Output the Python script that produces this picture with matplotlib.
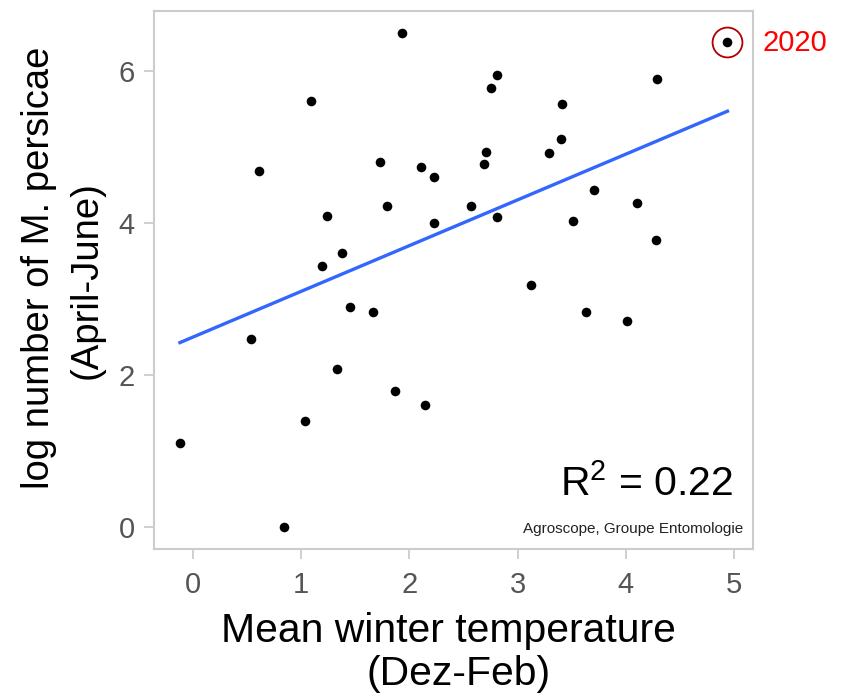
import numpy as np
import matplotlib
matplotlib.use("Agg")
import matplotlib.pyplot as plt

plt.rcParams['font.family'] = ['Liberation Sans', 'DejaVu Sans']
plt.rcParams['mathtext.fontset'] = 'custom'
plt.rcParams['mathtext.rm'] = 'Liberation Sans'
plt.rcParams['mathtext.it'] = 'Liberation Sans'

# Mean winter temperature (Dec-Feb)
temp = [1.93, 1.09, 0.61, 1.73, 2.11, 2.23, 1.24, 1.79, 2.23, 1.38, 1.19,
        4.94, 2.81, 2.75, 4.29, 3.41, 3.40, 3.29, 2.71, 2.69, 3.71, 2.57,
        2.81, 3.51, 4.10, 4.28,
        0.54, 1.45, 1.66, 1.33, 1.87, 2.14, 1.04, -0.12, 0.84,
        3.12, 3.63, 4.01]
# log number of M. persicae (April-June)
lognum = [6.50, 5.61, 4.68, 4.80, 4.74, 4.60, 4.09, 4.23, 4.00, 3.61, 3.43,
          6.38, 5.95, 5.78, 5.89, 5.57, 5.10, 4.92, 4.94, 4.77, 4.43, 4.23,
          4.08, 4.03, 4.26, 3.78,
          2.48, 2.89, 2.83, 2.08, 1.79, 1.61, 1.39, 1.10, 0.00,
          3.18, 2.83, 2.71]
highlight_year = "2020"
highlight_idx = 11
r2_text = r"R$^2$ = 0.22"
xticks = [0, 1, 2, 3, 4, 5]
yticks = [0, 2, 4, 6]
xlabel_lines = ["Mean winter temperature", "(Dez-Feb)"]
ylabel_lines = ["log number of M. persicae", "(April-June)"]

x = np.array(temp)
y = np.array(lognum)

W, H = 848, 694
fig = plt.figure(figsize=(W/100, H/100), dpi=100)
ax = fig.add_axes([154/W, 1-549/H, (753-154)/W, (549-11)/H])

ax.scatter(x, y, s=48, color='black', zorder=3, linewidths=0)
slope, intercept = np.polyfit(x, y, 1)
xl = np.array([x.min(), x.max()])
ax.plot(xl, intercept + slope*xl, color='#3366FF', lw=2.4, zorder=2)

ax.plot([x[highlight_idx]], [y[highlight_idx]], marker='o', markersize=21.5,
        markerfacecolor='none', markeredgecolor='#b00000', markeredgewidth=1.3,
        clip_on=False, zorder=4)

ax.set_xlim(-0.36, 5.176)
ax.set_ylim(-0.289, 6.789)
ax.set_xticks(xticks)
ax.set_yticks(yticks)
for s in ax.spines.values():
    s.set_color('#cccccc')
    s.set_linewidth(1.5)
ax.tick_params(axis='both', colors='#cccccc', length=7, width=1.3,
               labelsize=21, labelcolor='#555555')
ax.tick_params(axis='x', pad=9)
ax.tick_params(axis='y', pad=7)

# axis titles (two lines each, placed individually)
fig.text(448.5/W, 1-642/H, xlabel_lines[0], fontsize=29.4, ha='center', va='baseline')
fig.text(459/W, 1-685/H, xlabel_lines[1], fontsize=29.4, ha='center', va='baseline')
fig.text(49/W, 1-268/H, ylabel_lines[0], fontsize=27.5, ha='center', va='baseline',
         rotation=90, rotation_mode='anchor')
fig.text(97/W, 1-280/H, ylabel_lines[1], fontsize=27.5, ha='center', va='baseline',
         rotation=90, rotation_mode='anchor')

fig.text(733/W, 1-496/H, r2_text, fontsize=29.5, ha='right', va='baseline')
fig.text(743/W, 1-533/H, "Agroscope, Groupe Entomologie", fontsize=11,
         ha='right', va='baseline', color='#222222')
fig.text(762/W, 1-51/H, highlight_year, fontsize=21, color='#ff0000',
         ha='left', va='baseline')

fig.savefig("out.png", dpi=100)
